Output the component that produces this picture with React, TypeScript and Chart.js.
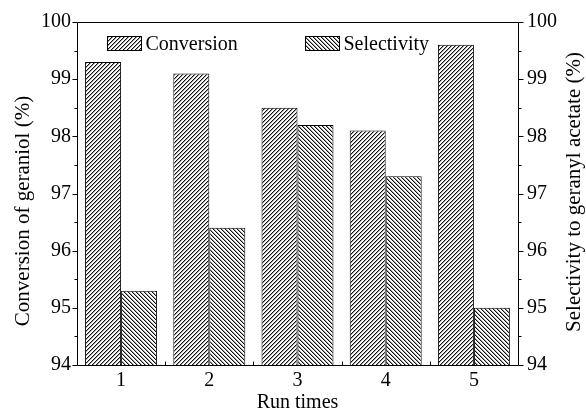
import React, { useEffect, useRef } from "react";
import { Chart, registerables } from "chart.js";
Chart.register(...registerables);

const categories = ["1", "2", "3", "4", "5"];
const conversion = [99.3, 99.1, 98.5, 98.1, 99.6];
const selectivity = [95.3, 96.4, 98.2, 97.3, 95.0];
const seriesNames = ["Conversion", "Selectivity"];
const yMin = 94;
const yMax = 100;
const yStep = 1;
const yMinorStep = 0.5;
const xTitle = "Run times";
const yTitleLeft = "Conversion of geraniol (%)";
const yTitleRight = "Selectivity to geranyl acetate (%)";

const FONT_FAMILY = '"Liberation Serif"';
const W = 586;
const H = 414;

function makeHatch(ctx: CanvasRenderingContext2D, dir: number) {
  const c = document.createElement("canvas");
  c.width = 4;
  c.height = 4;
  const t = c.getContext("2d")!;
  t.fillStyle = "#fff";
  t.fillRect(0, 0, 4, 4);
  for (let y = 0; y < 4; y++) {
    for (let x = 0; x < 4; x++) {
      const k = dir === 1 ? (x + y) % 4 : (((x - y) % 4) + 4) % 4;
      if (k === 0) {
        t.fillStyle = "#0f0f0f";
        t.fillRect(x, y, 1, 1);
      } else if (k === 1) {
        t.fillStyle = "#a0a0a0";
        t.fillRect(x, y, 1, 1);
      }
    }
  }
  return ctx.createPattern(c, "repeat")!;
}

export default function App() {
  const ref = useRef<HTMLCanvasElement | null>(null);

  useEffect(() => {
    const canvas = ref.current!;
    const ctx0 = canvas.getContext("2d")!;
    [20, 21].forEach((s) => {
      ctx0.font = `${s}px ${FONT_FAMILY}`;
      ctx0.measureText("Conversion 0123456789");
      ctx0.fillText("Conversion 0123456789", -1000, -1000);
    });
    const hatchA = makeHatch(ctx0, 1);
    const hatchB = makeHatch(ctx0, -1);
    const patterns = [hatchA, hatchB];

    const decor = {
      id: "decor",
      afterDraw(chart: any) {
        const ctx: CanvasRenderingContext2D = chart.ctx;
        const a = chart.chartArea;
        const ys = chart.scales.y;
        const xs = chart.scales.x;
        ctx.save();
        ctx.strokeStyle = "#000";
        ctx.lineWidth = 1;
        const L = Math.round(a.left) + 0.5;
        const R = Math.round(a.right) + 0.5;
        const T = Math.round(a.top) + 0.5;
        const B = Math.round(a.bottom) + 0.5;
        ctx.beginPath();
        ctx.rect(L, T, R - L, B - T);
        ctx.stroke();
        ctx.beginPath();
        for (let v = yMin; v <= yMax + 1e-9; v += yMinorStep) {
          const py = Math.round(ys.getPixelForValue(v)) + 0.5;
          const major = Math.abs(v - Math.round(v)) < 1e-9;
          const len = major ? 5 : 3;
          ctx.moveTo(L - len, py);
          ctx.lineTo(L, py);
          ctx.moveTo(R, py);
          ctx.lineTo(R + len, py);
        }
        for (let i = 0; i < categories.length - 1; i++) {
          const px = Math.round((xs.getPixelForValue(i) + xs.getPixelForValue(i + 1)) / 2) + 0.5;
          ctx.moveTo(px, B);
          ctx.lineTo(px, B - 4);
        }
        ctx.stroke();

        ctx.fillStyle = "#000";
        ctx.font = `20px ${FONT_FAMILY}`;
        ctx.textAlign = "center";
        ctx.textBaseline = "alphabetic";
        ctx.fillText(xTitle, (a.left + a.right) / 2, 408);

        ctx.font = `21px ${FONT_FAMILY}`;
        ctx.save();
        ctx.translate(29, 211);
        ctx.rotate(-Math.PI / 2);
        ctx.fillText(yTitleLeft, 0, 0);
        ctx.restore();

        ctx.save();
        ctx.translate(580, 192);
        ctx.rotate(-Math.PI / 2);
        ctx.fillText(yTitleRight, 0, 0);
        ctx.restore();

        const boxes = [a.left + 30, a.left + 228];
        ctx.font = `20px ${FONT_FAMILY}`;
        ctx.textAlign = "left";
        ctx.textBaseline = "middle";
        seriesNames.forEach((name, i) => {
          const bx = Math.round(boxes[i]) + 0.5;
          const by = Math.round(a.top + 14) + 0.5;
          ctx.fillStyle = patterns[i];
          ctx.fillRect(bx, by, 34, 14);
          ctx.strokeRect(bx, by, 34, 14);
          ctx.fillStyle = "#000";
          ctx.fillText(name, bx + 38, by + 8);
        });
        ctx.restore();
      },
    };

    const tickFont = { family: FONT_FAMILY, size: 20 };
    const chart = new Chart(canvas, {
      type: "bar",
      data: {
        labels: categories,
        datasets: [
          {
            label: seriesNames[0],
            data: conversion,
            backgroundColor: hatchA,
            borderColor: "#000",
            borderWidth: 1,
            base: yMin,
            categoryPercentage: 0.816,
            barPercentage: 1,
            yAxisID: "y",
          } as any,
          {
            label: seriesNames[1],
            data: selectivity,
            backgroundColor: hatchB,
            borderColor: "#000",
            borderWidth: 1,
            base: yMin,
            categoryPercentage: 0.816,
            barPercentage: 1,
            yAxisID: "y",
          } as any,
        ],
      },
      options: {
        animation: false,
        responsive: false,
        layout: { padding: { top: 22, left: 0, right: 0, bottom: 0 } },
        plugins: { legend: { display: false }, tooltip: { enabled: false } },
        scales: {
          x: {
            offset: true,
            grid: { display: false, drawTicks: false },
            border: { display: false },
            ticks: { font: tickFont, color: "#000", padding: 4, maxRotation: 0 },
            afterFit: (s: any) => {
              s.height = 49;
            },
          },
          y: {
            position: "left",
            min: yMin,
            max: yMax,
            grid: { display: false, drawTicks: false },
            border: { display: false },
            ticks: { stepSize: yStep, font: tickFont, color: "#000", padding: 6 },
            afterFit: (s: any) => {
              s.width = 77;
            },
          },
          y2: {
            position: "right",
            min: yMin,
            max: yMax,
            grid: { display: false, drawTicks: false },
            border: { display: false },
            ticks: { stepSize: yStep, font: tickFont, color: "#000", padding: 9 },
            afterFit: (s: any) => {
              s.width = 68;
            },
          },
        },
      } as any,
      plugins: [decor],
    });
    return () => chart.destroy();
  }, []);

  return <canvas ref={ref} width={W} height={H} style={{ position: "fixed", left: 0, top: 0, background: "#fff" }} />;
}
